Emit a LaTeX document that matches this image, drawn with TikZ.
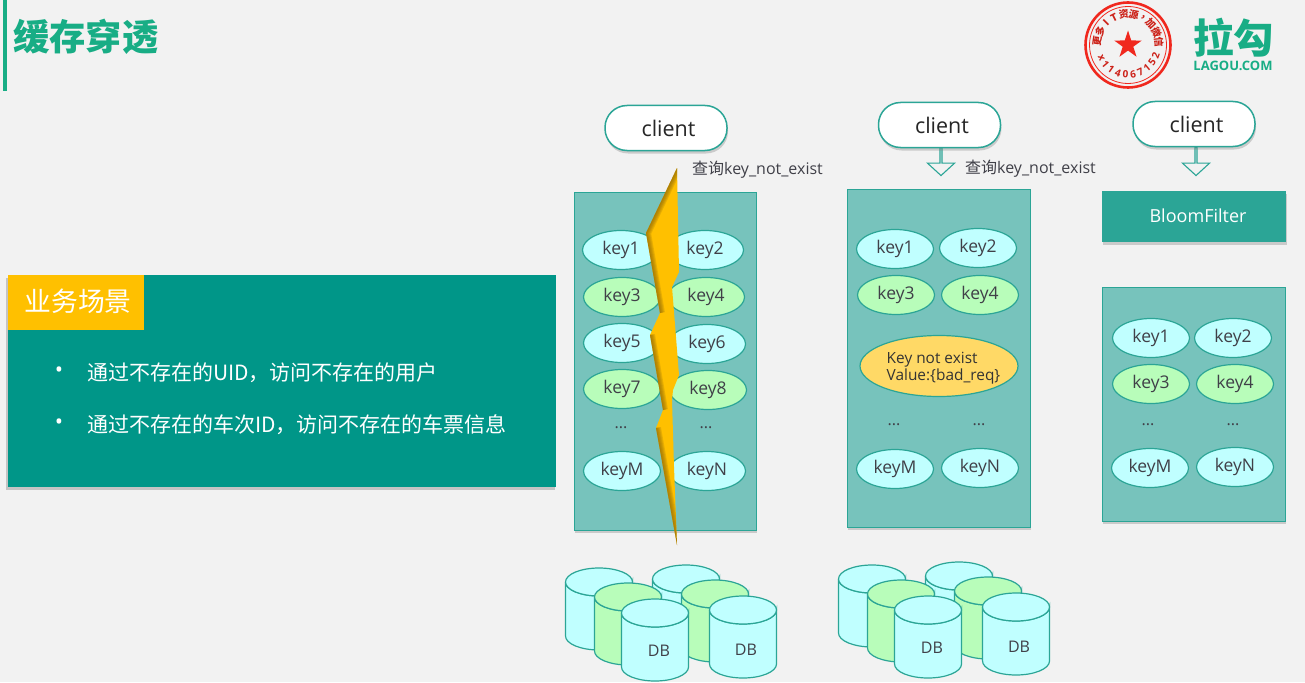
\documentclass[tikz,border=0pt]{standalone}
\usepackage{fontspec}
\setmainfont{Open Sans}
\newfontfamily\cjk{Noto Sans CJK SC}
\usetikzlibrary{calc}
\usetikzlibrary{shapes.geometric}
\usetikzlibrary{shapes.arrows}
\usetikzlibrary{shadows}
\definecolor{mback}{HTML}{F2F2F2}
\definecolor{mteal}{HTML}{009688}
\definecolor{mhead}{HTML}{18AD85}
\definecolor{mpanel}{HTML}{77C3BC}
\definecolor{mline}{HTML}{2BA596}
\definecolor{mcyan}{HTML}{C0FFFF}
\definecolor{mgreen}{HTML}{B8FDBA}
\definecolor{mgold}{HTML}{FFC000}
\definecolor{mbad}{HTML}{FFD966}
\definecolor{mbrown}{HTML}{8A6508}
\definecolor{mtext}{HTML}{404048}
\definecolor{mred}{HTML}{F0281E}
\tikzset{softshadow/.style = {drop shadow={shadow xshift=1pt, shadow yshift=-3pt, opacity=0.35}}}
\tikzset{panel/.style = {fill=mpanel, draw=mline, line width=1pt, softshadow}}
\tikzset{keyc/.style = {ellipse, draw=mline, line width=1.2pt, minimum width=77pt, minimum height=39pt,
                        inner sep=0pt, text=mtext, font=\fontsize{17.5}{20}\selectfont}}
\tikzset{keyb/.style = {keyc, fill=mcyan}}
\tikzset{keyg/.style = {keyc, fill=mgreen}}
\tikzset{clientbox/.style = {rounded corners=22pt, fill=white, draw=mline, line width=1.5pt, minimum width=122pt,
                             minimum height=45pt, text=black!85, font=\fontsize{21.5}{24}\selectfont, softshadow}}
\tikzset{downarrow/.style = {single arrow, shape border rotate=270, draw=mline, fill=mback, line width=1.1pt,
                             minimum width=27pt, minimum height=28pt, single arrow head extend=7pt,
                             single arrow tip angle=95, inner sep=0pt, anchor=north}}
\tikzset{query/.style = {anchor=west, inner sep=0pt, text=mtext, font=\fontsize{16}{18}\selectfont}}
\tikzset{dots/.style = {text=mtext, inner sep=0pt, font=\fontsize{16}{18}\selectfont}}
\tikzset{dblabel/.style = {inner sep=0pt, text=mtext, font=\fontsize{16}{18}\selectfont}}
\tikzset{cardtext/.style = {anchor=west, inner sep=0pt, text=white, font=\cjk\fontsize{21}{24}\selectfont}}
\tikzset{carddot/.style = {inner sep=0pt, text=white, font=\fontsize{22}{24}\selectfont}}
\newcommand{\dbcyl}[3]{%
  \draw [fill=#3, draw=mline, line width=1.2pt] (#1-33.5, #2) -- (#1-33.5, #2+54) arc(180:0:33.5 and 14) -- (#1+33.5, #2)
        arc(0:180:33.5 and 14);
  \draw [fill=#3, draw=mline, line width=1.2pt] (#1, #2) ellipse (33.5 and 14);
}
\newcommand{\dbgroup}[2]{%
  \dbcyl{#1}{#2}{mcyan}
  \dbcyl{#1+87}{#2-3}{mcyan}
  \dbcyl{#1+29}{#2+15}{mgreen}
  \dbcyl{#1+116}{#2+12}{mgreen}
  \dbcyl{#1+56}{#2+31}{mcyan}
  \dbcyl{#1+144}{#2+28}{mcyan}
}
\begin{document}
\begin{tikzpicture}[x=1pt, y=-1pt]
      \fill [mback] (0, 0) rectangle (1305, 682);
      \useasboundingbox (0, 0) rectangle (1305, 682);

      % heading
      \fill [mhead] (3, 0) rectangle (7, 91);
      \node (title) [anchor=west, inner sep=0pt, text=mhead, font=\cjk\bfseries\fontsize{36.3}{38}\selectfont] at (13, 37) {缓存穿透};

      % stamp
      \coordinate (stamp) at (1128, 45);
      \draw [mred, line width=2.6pt] (stamp) circle (42.5);
      \draw [mred, line width=0.8pt] (stamp) circle (38.5);
      \node (star) [star, star points=5, star point ratio=2.6, fill=mred, minimum size=29pt, inner sep=0pt] at (1128, 45) {};
      \foreach \ch [count=\i] in {更,多,I,T,资,源,{,},加,微,信} {
        \pgfmathsetmacro{\ang}{172-(\i-1)*18.5}
        \node [mred!85!black, inner sep=0pt, rotate=\ang-90, font=\cjk\bfseries\fontsize{10}{10}\selectfont]
              at ($(stamp)+(\ang:31 and -31)$) {\ch};
      }
      \foreach \ch [count=\i] in {x,1,1,4,0,6,7,1,5,2} {
        \pgfmathsetmacro{\ang}{205+(\i-1)*15}
        \node [mred!85!black, inner sep=0pt, rotate=\ang+90, font=\bfseries\fontsize{10}{10}\selectfont]
              at ($(stamp)+(\ang:29.5 and -29.5)$) {\ch};
      }

      % logo
      \node (logo) [inner sep=0pt, text=mhead, font=\cjk\bfseries\fontsize{40.5}{42}\selectfont] at (1233.5, 38) {拉勾};
      \node (logotext) [inner sep=0pt, text=mhead, font=\bfseries\fontsize{13}{15}\selectfont] at (1233, 66) {LAGOU.COM};

      % left card
      \fill [mteal, drop shadow={shadow xshift=-1.5pt, shadow yshift=-2.5pt, opacity=0.4}] (7.5, 275) rectangle (556, 487);
      \fill [mgold] (7.5, 275) rectangle (144, 330);
      \node (scene) [inner sep=0pt, text=white, font=\cjk\fontsize{26.8}{30}\selectfont] at (78, 301) {业务场景};
      \node (dota) [carddot] at (59, 372) {•};
      \node (dotb) [carddot] at (59, 424) {•};
      \node (linea) [cardtext] at (87, 373) {通过不存在的UID，访问不存在的用户};
      \node (lineb) [cardtext] at (87, 425) {通过不存在的车次ID，访问不存在的车票信息};

      % first column
      \node (clienta) [clientbox] at (666, 128) {\hspace*{5pt}client};
      \node (querya) [query] at (692, 169.5) {{\cjk 查询}key\_not\_exist};
      \draw [panel] (574, 192) rectangle (756, 530);
      \node (a1) [keyb] at (621, 250) {key1};
      \node (a2) [keyb] at (705, 250) {key2};
      \node (a3) [keyg] at (622, 297) {key3};
      \node (a4) [keyg] at (706, 297) {key4};
      \node (a5) [keyb] at (622, 343) {key5};
      \node (a6) [keyb] at (707, 344) {key6};
      \node (a7) [keyg] at (622, 389) {key7};
      \node (a8) [keyg] at (708, 390) {key8};
      \node (adotsa) [dots] at (621, 428) {...};
      \node (adotsb) [dots] at (706, 428) {...};
      \node (aM) [keyb] at (622, 471) {keyM};
      \node (aN) [keyb] at (707, 471) {keyN};

      % crack through the first column
      \begin{scope}
        \clip (677, 168) -- (646, 233) -- (660, 313) -- (650, 335) -- (663, 410) -- (656, 428) -- (677, 545) -- (674, 467) -- (672, 400) -- (673, 390) -- (679, 375) -- (672, 287) -- (679, 272) -- cycle;
        \fill [mgold] (640, 160) rectangle (685, 550);
        \foreach \w in {2, 4, 6, 8, 10} {
          \draw [mbrown, opacity=0.2, line width=\w pt] (677, 168) -- (646, 233) -- (660, 313);
          \draw [mbrown, opacity=0.2, line width=\w pt] (650, 335) -- (663, 410);
          \draw [mbrown, opacity=0.2, line width=\w pt] (656, 428) -- (677, 545);
        }
      \end{scope}

      \dbgroup{599}{582}
      \node (dba) [dblabel] at (659, 651) {DB};
      \node (dbb) [dblabel] at (746, 650) {DB};

      % second column
      \node (arrowb) [downarrow] at (941, 147) {};
      \node (clientb) [clientbox] at (939.5, 125) {\hspace*{5pt}client};
      \node (queryb) [query] at (965, 168.5) {{\cjk 查询}key\_not\_exist};
      \draw [panel] (847, 189) rectangle (1030, 527);
      \node (b1) [keyb] at (895, 249) {key1};
      \node (b2) [keyb] at (978, 248) {key2};
      \node (b3) [keyg] at (896, 295) {key3};
      \node (b4) [keyg] at (980, 295) {key4};
      \node (bad) [ellipse, draw=mline, line width=1.2pt, fill=mbad, minimum width=158pt, minimum height=61pt, inner sep=0pt] at (939, 366) {};
      \node (badtext) [inner sep=0pt, align=left, text=black!80, font=\fontsize{15.4}{17.5}\selectfont] at (943.5, 368) {Key not exist\\Value:\{bad\_req\}};
      \node (bdotsa) [dots] at (894, 425) {...};
      \node (bdotsb) [dots] at (979, 425) {...};
      \node (bM) [keyb] at (895, 469) {keyM};
      \node (bN) [keyb] at (980, 468) {keyN};

      \dbgroup{872}{579}
      \node (dbc) [dblabel] at (932, 648) {DB};
      \node (dbd) [dblabel] at (1019, 647) {DB};

      % third column
      \node (arrowc) [downarrow] at (1196, 147) {};
      \node (clientc) [clientbox] at (1194, 124) {\hspace*{5pt}client};
      \node (bloom) [fill=mline, minimum width=184pt, minimum height=51pt, text=white, inner sep=0pt, font=\fontsize{18}{20}\selectfont,
                     softshadow] at (1193.5, 216) {\hspace*{9pt}BloomFilter};
      \draw [panel] (1102, 287) rectangle (1285, 521);
      \node (c1) [keyb] at (1151, 338) {key1};
      \node (c2) [keyb] at (1233, 338) {key2};
      \node (c3) [keyg] at (1151, 384) {key3};
      \node (c4) [keyg] at (1235, 384) {key4};
      \node (cdotsa) [dots] at (1148, 425) {...};
      \node (cdotsb) [dots] at (1233, 425) {...};
      \node (cM) [keyb] at (1150, 468) {keyM};
      \node (cN) [keyb] at (1235, 467) {keyN};
    \end{tikzpicture}
\end{document}
